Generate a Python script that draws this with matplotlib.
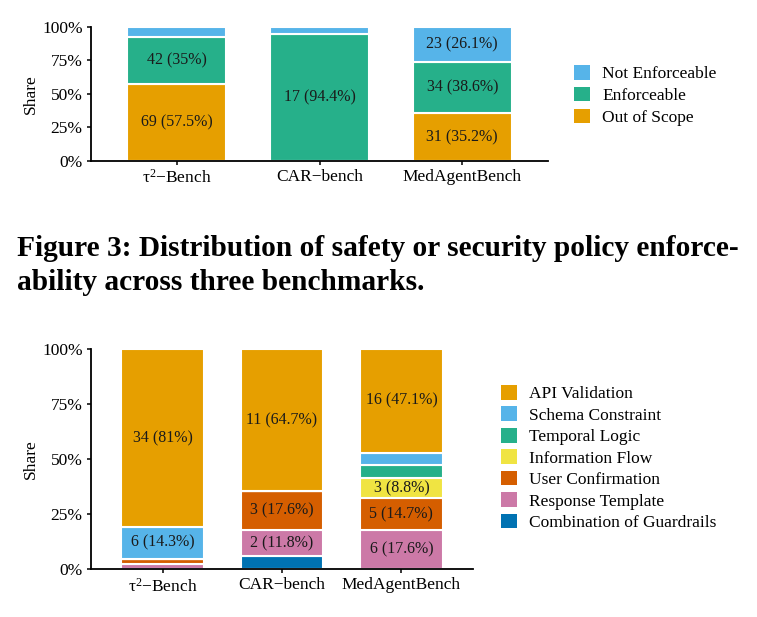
import numpy as np
import matplotlib
matplotlib.use("Agg")
import matplotlib.pyplot as plt
from matplotlib.patches import Patch

plt.rcParams['font.family'] = ['Liberation Serif', 'DejaVu Serif']
plt.rcParams['mathtext.fontset'] = 'custom'
plt.rcParams['mathtext.rm'] = 'Liberation Serif'
plt.rcParams['mathtext.it'] = 'Liberation Serif:italic'

# ---- data ----
benchmarks = ['τ$^{2}$−Bench', 'CAR−bench', 'MedAgentBench']

# figure 3: enforceability (stacked bottom -> top)
enf_names = ['Out of Scope', 'Enforceable', 'Not Enforceable']
out_of_scope = [69, 0, 31]
enforceable = [42, 17, 34]
not_enforceable = [9, 1, 23]

# guardrail types (stacked bottom -> top)
guard_names = ['Combination of Guardrails', 'Response Template', 'User Confirmation',
               'Information Flow', 'Temporal Logic', 'Schema Constraint', 'API Validation']
combination = [0, 1, 0]
response_template = [1, 2, 6]
user_confirmation = [1, 3, 5]
information_flow = [0, 0, 3]
temporal_logic = [0, 0, 2]
schema_constraint = [6, 0, 2]
api_validation = [34, 11, 16]

enf_colors = ['#E69F00', '#26B08A', '#56B4E9']
guard_colors = ['#0072B2', '#CC79A7', '#D55E00', '#F0E442', '#26B08A', '#56B4E9', '#E69F00']

W, H = 757, 617
fig = plt.figure(figsize=(W / 100, H / 100), dpi=100)


def stacked(ax, series, colors, names, label_size, width):
    counts = np.array(series, dtype=float)
    totals = counts.sum(axis=0)
    x = np.arange(len(benchmarks))
    bottom = np.zeros(len(benchmarks))
    handles = []
    for vals, col, name in zip(counts, colors, names):
        share = vals / totals
        ax.bar(x, share, width, bottom=bottom, color=col, edgecolor='white', linewidth=1.5)
        for i in range(len(x)):
            pct = round(100 * share[i], 1)
            if pct >= 8:
                ax.text(x[i], bottom[i] + share[i] / 2, f'{int(vals[i])} ({pct:g}%)',
                        ha='center', va='center', fontsize=label_size, color='#1a1a1a')
        bottom += share
        handles.append(Patch(facecolor=col, edgecolor='none', label=name))

    ax.set_xlim(-0.6, 2.6)
    ax.set_ylim(0, 1)
    ax.set_xticks(x)
    ax.set_xticklabels(benchmarks)
    ax.set_yticks([0, 0.25, 0.5, 0.75, 1])
    ax.set_yticklabels(['0%', '25%', '50%', '75%', '100%'])
    ax.set_ylabel('Share', fontsize=12.5, labelpad=2)
    ax.tick_params(labelsize=12.5, length=3, width=1.1, pad=3, colors='black')
    for s in ['top', 'right']:
        ax.spines[s].set_visible(False)
    for s in ['left', 'bottom']:
        ax.spines[s].set_linewidth(1.3)
    return handles[::-1]


# top chart
ax1 = fig.add_axes([91 / W, 1 - 160.7 / H, (548 - 91) / W, 134 / H])
h1 = stacked(ax1, [out_of_scope, enforceable, not_enforceable], enf_colors, enf_names, 11.5, 0.69)
fig.legend(handles=h1, loc='upper left', bbox_to_anchor=(574 / W, 1 - 65 / H),
           frameon=False, fontsize=12.5, handlelength=0.92, handleheight=0.92,
           handletextpad=0.7, labelspacing=0.26, borderpad=0, borderaxespad=0)

# caption
fig.text(17 / W, 1 - 256.5 / H, 'Figure 3: Distribution of safety or security policy enforce-',
         fontsize=21.2, fontweight='bold', va='baseline', ha='left')
fig.text(17 / W, 1 - 290 / H, 'ability across three benchmarks.',
         fontsize=21.2, fontweight='bold', va='baseline', ha='left')

# bottom chart
ax2 = fig.add_axes([91 / W, 1 - 569 / H, (473 - 91) / W, 220 / H])
h2 = stacked(ax2, [combination, response_template, user_confirmation, information_flow,
                   temporal_logic, schema_constraint, api_validation],
             guard_colors, guard_names, 11.5, 0.69)
fig.legend(handles=h2, loc='upper left', bbox_to_anchor=(501 / W, 1 - 385 / H),
           frameon=False, fontsize=12.5, handlelength=0.92, handleheight=0.92,
           handletextpad=0.7, labelspacing=0.24, borderpad=0, borderaxespad=0)

fig.savefig('out.png', dpi=100)
